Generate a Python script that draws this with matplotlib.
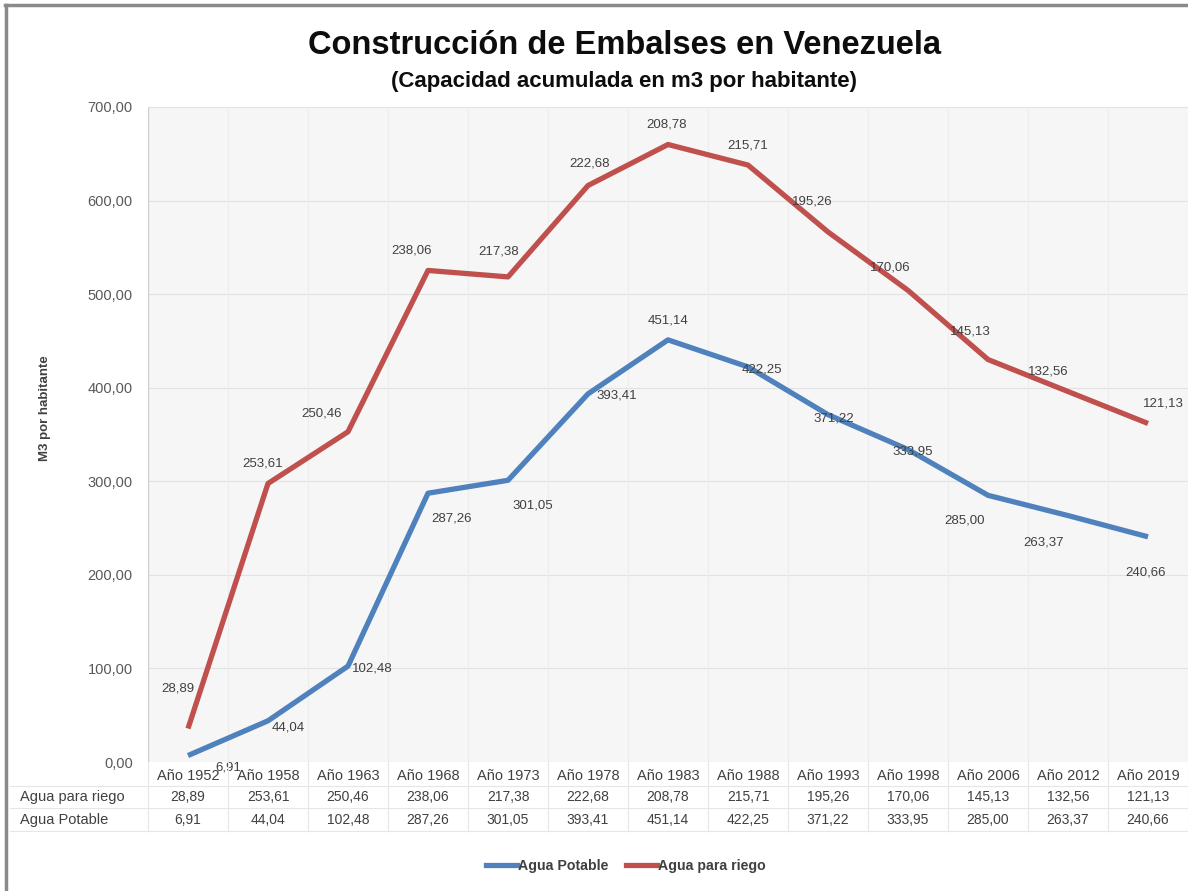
import matplotlib
matplotlib.use("Agg")
import matplotlib.pyplot as plt
from matplotlib.lines import Line2D
import numpy as np

# Data
years = ["Año 1952", "Año 1958", "Año 1963", "Año 1968", "Año 1973", "Año 1978", "Año 1983",
         "Año 1988", "Año 1993", "Año 1998", "Año 2006", "Año 2012", "Año 2019"]
agua_potable = [6.91, 44.04, 102.48, 287.26, 301.05, 393.41, 451.14,
                422.25, 371.22, 333.95, 285.00, 263.37, 240.66]
agua_riego = [28.89, 253.61, 250.46, 238.06, 217.38, 222.68, 208.78,
              215.71, 195.26, 170.06, 145.13, 132.56, 121.13]
y_ticks = [0, 100, 200, 300, 400, 500, 600, 700]

# Label offsets in pixels (dx, dy up) for each data label
off_riego = [(-10, 40), (-5, 20), (-26, 18), (-16, 20), (-9, 25), (2, 22), (-1, 20),
             (0, 20), (-16, 30), (-18, 23), (-18, 28), (-20, 20), (15, 20)]
off_potable = [(40, -12), (20, -7), (24, -2), (24, -25), (25, -25), (29, -2), (0, 19),
               (14, -3), (6, -4), (5, -2), (-23, -25), (-24, -27), (-2, -36)]

plt.rcParams["font.family"] = ["Liberation Sans", "DejaVu Sans"]

BLUE = "#4f81bd"
RED = "#c0504d"
TXT = "#404040"

W, H = 1188, 891
fig = plt.figure(figsize=(W / 100, H / 100), dpi=100)
fig.patch.set_facecolor("white")


def fx(px):
    return px / W


def fy(py):
    return 1 - py / H


# Plot area
left, right, top, bottom = 148, 1188, 107, 762
ax = fig.add_axes([fx(left), fy(bottom), (right - left) / W, (bottom - top) / H])
ax.set_facecolor("#f6f6f6")

x = np.arange(len(years))
potable = np.array(agua_potable)
riego_total = potable + np.array(agua_riego)

ax.plot(x, potable, color=BLUE, lw=3.8, solid_capstyle="butt", zorder=3)
ax.plot(x, riego_total, color=RED, lw=3.8, solid_capstyle="butt", zorder=3)

ax.set_xlim(-0.5, len(years) - 0.5)
ax.set_ylim(0, 700)
ax.set_yticks(y_ticks)
ax.set_yticklabels([f"{v:.2f}".replace(".", ",") for v in y_ticks],
                   fontsize=10.5, color="#595959")
ax.tick_params(axis="y", length=0, pad=11)
ax.set_xticks(x)
ax.set_xticklabels(years, fontsize=10.5, color=TXT)
ax.tick_params(axis="x", length=0, pad=5)

for v in y_ticks:
    ax.axhline(v, color="#e2e2e2", lw=0.8, zorder=1)
for b in np.arange(-0.5, len(years), 1.0):
    ax.axvline(b, color="#ededed", lw=0.8, zorder=1)
for s in ax.spines.values():
    s.set_visible(False)
ax.axvline(-0.5, color="#d0d0d0", lw=1.0, zorder=2)

# Data labels
for i in range(len(years)):
    ax.annotate(f"{agua_riego[i]:.2f}".replace(".", ","), (x[i], riego_total[i]),
                xytext=off_riego[i], textcoords="offset pixels",
                ha="center", va="center", fontsize=9.5, color=TXT, zorder=4)
    ax.annotate(f"{agua_potable[i]:.2f}".replace(".", ","), (x[i], potable[i]),
                xytext=off_potable[i], textcoords="offset pixels",
                ha="center", va="center", fontsize=9.5, color=TXT, zorder=4)

# Y-axis label
fig.text(fx(45), fy(408), "M3 por habitante", rotation=90, ha="center", va="center",
         fontsize=9.5, fontweight="bold", color=TXT)

# Data table under the x-axis
row_y = [797, 820]
row_names = ["Agua para riego", "Agua Potable"]
row_vals = [agua_riego, agua_potable]
for ry, name, vals in zip(row_y, row_names, row_vals):
    fig.text(fx(20), fy(ry), name, ha="left", va="center", fontsize=10.5, color=TXT)
    for i, v in enumerate(vals):
        fig.text(fx(left + 40 + 80 * i), fy(ry), f"{v:.2f}".replace(".", ","),
                 ha="center", va="center", fontsize=10, color=TXT)

grid_c = "#e6e6e6"
for gy in [786, 808, 831]:
    fig.add_artist(Line2D([fx(10), fx(W)], [fy(gy), fy(gy)], color=grid_c, lw=0.8))
for j in range(len(years) + 1):
    gx = left + 80 * j
    fig.add_artist(Line2D([fx(gx), fx(gx)], [fy(bottom), fy(831)], color=grid_c, lw=0.8))

# Titles
fig.text(fx(624), fy(46), "Construcción de Embalses en Venezuela", ha="center", va="center",
         fontsize=23.5, fontweight="bold", color="#0d0d0d")
fig.text(fx(624), fy(81), "(Capacidad acumulada en m3 por habitante)", ha="center", va="center",
         fontsize=16, fontweight="bold", color="#0d0d0d")

# Legend
handles = [Line2D([], [], color=BLUE, lw=3.8), Line2D([], [], color=RED, lw=3.8)]
leg = fig.legend(handles, ["Agua Potable", "Agua para riego"], loc="center",
                 bbox_to_anchor=(fx(626), fy(866)), ncol=2, frameon=False,
                 handlelength=2.2, handletextpad=0.1, columnspacing=1.2,
                 prop={"size": 10.2, "weight": "bold"})
for t in leg.get_texts():
    t.set_color(TXT)

# Outer frame (top and left edges)
fig.add_artist(Line2D([fx(5), fx(W)], [fy(5), fy(5)], color="#8a8a8a", lw=2.5))
fig.add_artist(Line2D([fx(6), fx(6)], [fy(5), fy(H)], color="#8a8a8a", lw=2.5))

fig.savefig("out.png", dpi=100, facecolor="white")
